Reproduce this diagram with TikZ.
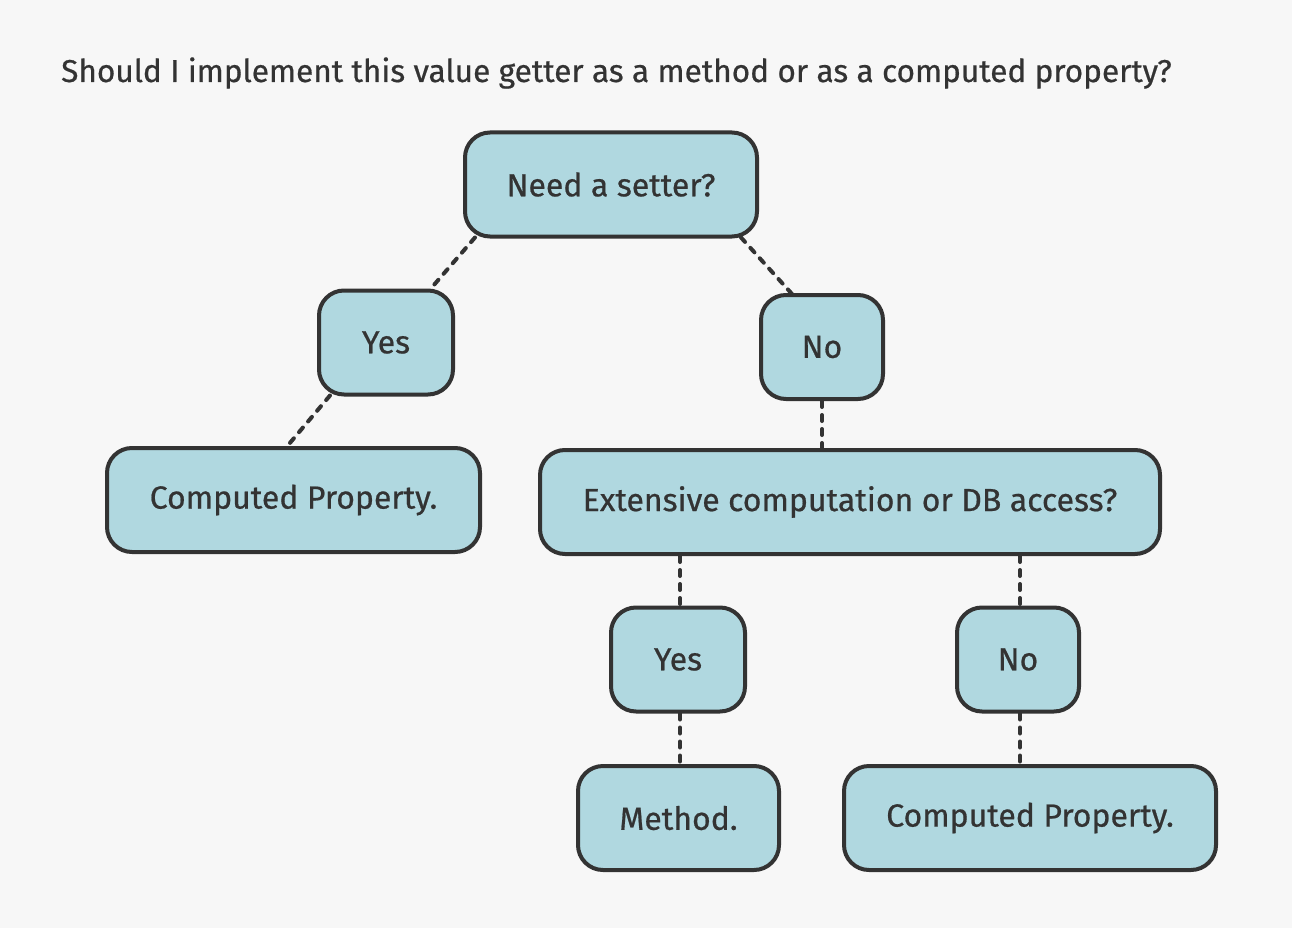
\documentclass[tikz,border=0pt]{standalone}
\usepackage{fontspec}
\setmainfont{Fira Sans}[FakeBold=0.6]
\usepackage{tikz}
\usepackage{xcolor}
\usetikzlibrary{positioning,calc}
\definecolor{bgGray}{HTML}{F7F7F7}
\definecolor{boxBlue}{HTML}{B0D8E0}
\definecolor{lineDark}{HTML}{333333}

\tikzset{
  answer/.style={draw=lineDark, line width=4pt, fill=boxBlue, rounded corners=25pt,
    text=lineDark, inner sep=0pt, minimum height=104pt, font=\fontsize{32}{38}\selectfont},
  link/.style={lineDark, line width=4pt, dash pattern=on 6pt off 8pt, line cap=round}
}

\begin{document}
\begin{tikzpicture}[x=1pt,y=-1pt]
  \fill[bgGray] (0,0) rectangle (1292,928);
  \useasboundingbox (0,0) rectangle (1292,928);

  \node[anchor=base west, text=lineDark, inner sep=0pt, font=\fontsize{31.6}{38}\selectfont] (title) at (61,82)
    {Should I implement this value getter as a method or as a computed property?};

  \node[answer, minimum width=292pt] (setter) at (611,184.5) {Need a setter?};
  \node[answer, minimum width=134pt] (yesA) at (386,342.5) {Yes};
  \node[answer, minimum width=122pt] (noA) at (822,347) {No};
  \node[answer, minimum width=373pt] (compA) at (293.5,500) {Computed Property.};
  \node[answer, minimum width=620pt] (ext) at (850,502) {Extensive computation or DB access?};
  \node[answer, minimum width=134pt] (yesB) at (678,659.5) {Yes};
  \node[answer, minimum width=122pt] (noB) at (1018,659.5) {No};
  \node[answer, minimum width=201pt] (method) at (678.5,818) {Method.};
  \node[answer, minimum width=372pt] (compB) at (1030,818) {Computed Property.};

  % dashed links between the boxes
  \draw[link] ([xshift=12pt,yshift=1pt]setter.south west) -- ([xshift=-25pt,yshift=-1pt]yesA.north east);
  \draw[link] ([xshift=-18pt,yshift=1pt]setter.south east) -- ([xshift=-30pt,yshift=-1pt]noA.north);
  \draw[link] ([xshift=13pt,yshift=1pt]yesA.south west) -- ([xshift=-7pt,yshift=-1pt]compA.north);
  \draw[link] (noA.south) -- (noA.south |- ext.north);
  \draw[link] ([xshift=2pt]yesB.north |- ext.south) -- ([xshift=2pt]yesB.north);
  \draw[link] ([xshift=2pt]noB.north |- ext.south) -- ([xshift=2pt]noB.north);
  \draw[link] ([xshift=2pt]yesB.south) -- ([xshift=2pt]yesB.south |- method.north);
  \draw[link] ([xshift=2pt]noB.south) -- ([xshift=2pt]noB.south |- compB.north);
\end{tikzpicture}
\end{document}
